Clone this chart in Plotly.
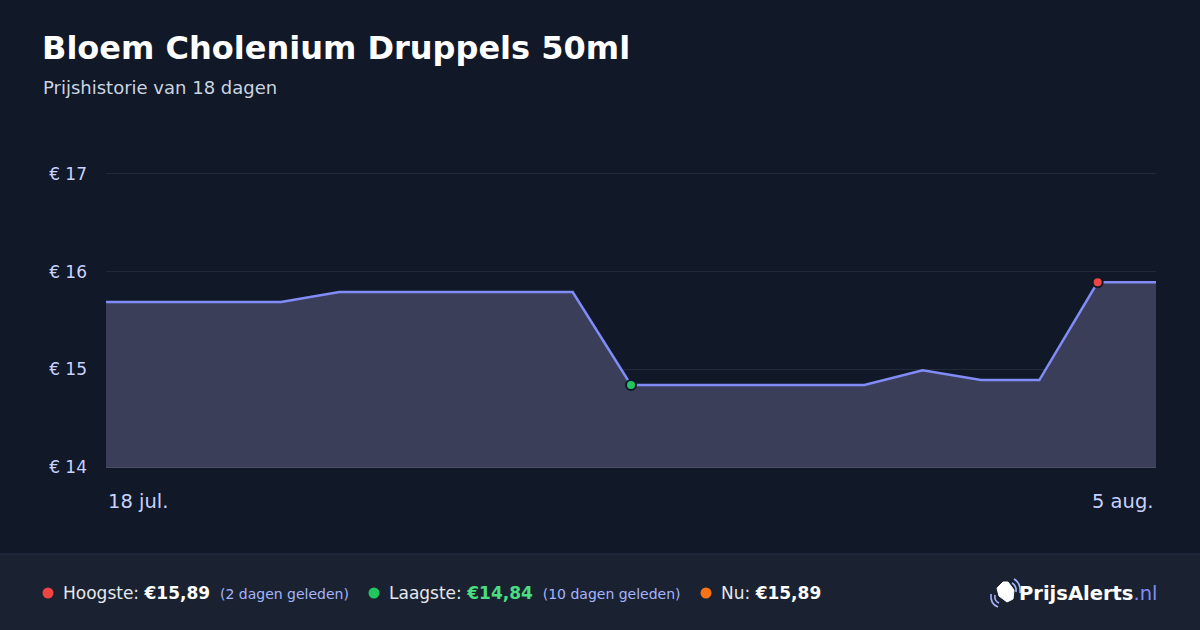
import plotly.graph_objects as go

# price history
dates = ["2024-07-18", "2024-07-19", "2024-07-20", "2024-07-21", "2024-07-22",
         "2024-07-23", "2024-07-24", "2024-07-25", "2024-07-26", "2024-07-27",
         "2024-07-28", "2024-07-29", "2024-07-30", "2024-07-31", "2024-08-01",
         "2024-08-02", "2024-08-03", "2024-08-04", "2024-08-05"]
prices = [15.69, 15.69, 15.69, 15.69, 15.79, 15.79, 15.79, 15.79, 15.79, 14.84,
          14.84, 14.84, 14.84, 14.84, 14.99, 14.89, 14.89, 15.89, 15.89]
y_ticks = [14, 15, 16, 17]
y_ticklabels = ["€ 14", "€ 15", "€ 16", "€ 17"]
x_labels = ["18 jul.", "5 aug."]

title = "Bloem Cholenium Druppels 50ml"
subtitle = "Prijshistorie van 18 dagen"

BG = "#111827"
FOOT = "#1a2231"
LINE = "#818cf8"
FONT = "DejaVu Sans"

W, H = 1200, 630
L, R, T, B = 106, 1156, 169, 467   # plot area in pixels
Y_TOP = 17.05


def px(x):
    return (x - L) / (R - L)


def py(y):
    return (B - y) / (B - T)


i_max = 17
i_min = 9

fig = go.Figure()
fig.add_trace(go.Scatter(x=dates, y=prices, mode="lines",
                         line=dict(color=LINE, width=2.5),
                         fill="tozeroy", fillcolor="rgb(58,62,88)",
                         hoverinfo="skip"))
fig.add_trace(go.Scatter(x=[dates[i_max]], y=[prices[i_max]], mode="markers",
                         marker=dict(color="#ef4444", size=10, line=dict(color=BG, width=2))))
fig.add_trace(go.Scatter(x=[dates[i_min]], y=[prices[i_min]], mode="markers",
                         marker=dict(color="#22c55e", size=10, line=dict(color=BG, width=2))))

shapes = []
# footer band + border
shapes.append(dict(type="rect", xref="paper", yref="paper", x0=px(0), x1=px(W),
                   y0=py(554), y1=py(H), fillcolor=FOOT, line=dict(width=0), layer="below"))
shapes.append(dict(type="line", xref="paper", yref="paper", x0=px(0), x1=px(W),
                   y0=py(554), y1=py(554), line=dict(color="#27304f", width=1)))
# footer dots
for cx, col in [(48, "#ef4444"), (374, "#22c55e"), (706, "#f97316")]:
    shapes.append(dict(type="circle", xref="paper", yref="paper",
                       x0=px(cx - 5.5), x1=px(cx + 5.5), y0=py(593 - 5.5), y1=py(593 + 5.5),
                       fillcolor=col, line=dict(width=0)))


# logo icon: tag + signal arcs
def path(points, close=True):
    s = "M " + " L ".join(f"{px(a):.5f},{py(b):.5f}" for a, b in points)
    return s + (" Z" if close else "")


shapes.append(dict(type="path", xref="paper", yref="paper",
                   path=path([(997, 588), (1003, 582), (1008, 582), (1014, 590),
                              (1013, 599), (1007, 602), (999, 596)]),
                   fillcolor="white", line=dict(color="white", width=1)))


def arc(p0, c, p1):
    return (f"M {px(p0[0]):.5f},{py(p0[1]):.5f} Q {px(c[0]):.5f},{py(c[1]):.5f} "
            f"{px(p1[0]):.5f},{py(p1[1]):.5f}")


for p0, c, p1 in [((1012, 583), (1017, 586), (1016, 592)),
                  ((1014, 579), (1021, 583), (1020, 593)),
                  ((995, 595), (994, 601), (999, 603)),
                  ((991, 594), (990, 604), (998, 607))]:
    shapes.append(dict(type="path", xref="paper", yref="paper", path=arc(p0, c, p1),
                       line=dict(color="#a5b4fc", width=1.6)))

ann = []


def text(x, y, s, size, color="#ffffff", anchor="left", yanchor="middle"):
    ann.append(dict(xref="paper", yref="paper", x=px(x), y=py(y), text=s,
                    showarrow=False, xanchor=anchor, yanchor=yanchor,
                    font=dict(family=FONT, size=size, color=color)))


text(40, 48, f"<b>{title}</b>", 32)
text(41, 87, subtitle, 18, "#cbd5e1")

# x labels at the two ends
ann.append(dict(x=dates[0], y=0, xref="x", yref="paper", yshift=-48, text=x_labels[0],
                showarrow=False, xanchor="left", font=dict(family=FONT, size=19.5, color="#c7d2fe")))
ann.append(dict(x=dates[-1], y=0, xref="x", yref="paper", yshift=-48, text=x_labels[1],
                showarrow=False, xanchor="right", font=dict(family=FONT, size=19.5, color="#c7d2fe")))

lo = min(prices)
hi = max(prices)
now = prices[-1]


def eur(v):
    return f"€{v:.2f}".replace(".", ",")


sub = "color:#a5b4fc;font-size:14px"
text(61, 593, f"Hoogste: <b style='color:#ffffff'>{eur(hi)}</b> <span style='{sub}'> (2 dagen geleden)</span>",
     17, "#e5e7eb")
text(387, 593, f"Laagste: <b style='color:#4ade80'>{eur(lo)}</b> <span style='{sub}'> (10 dagen geleden)</span>",
     17, "#e5e7eb")
text(719, 593, f"Nu: <b style='color:#ffffff'>{eur(now)}</b>", 17, "#e5e7eb")
text(1159, 593, "<b>PrijsAlerts</b><span style='color:#818cf8'>.nl</span>", 19.5, "#ffffff", anchor="right")

fig.update_layout(
    width=W, height=H,
    margin=dict(l=L, r=W - R, t=T, b=H - B),
    paper_bgcolor=BG, plot_bgcolor=BG,
    showlegend=False,
    shapes=shapes, annotations=ann,
    font=dict(family=FONT),
    xaxis=dict(range=[dates[0], dates[-1]], showgrid=False, showticklabels=False,
               zeroline=False, showline=True, linecolor="#4b5064", linewidth=1,
               fixedrange=True),
    yaxis=dict(range=[14, Y_TOP], tickvals=y_ticks, ticktext=y_ticklabels,
               gridcolor="rgba(255,255,255,0.08)", gridwidth=1, zeroline=False,
               tickfont=dict(family=FONT, size=17, color="#c7d2fe"),
               ticks="", ticklabelstandoff=18, layer="above traces", fixedrange=True),
)

fig.write_html("out.html", config={"displayModeBar": False},
               post_script="document.body.style.margin='0';document.body.style.background='#111827';")
